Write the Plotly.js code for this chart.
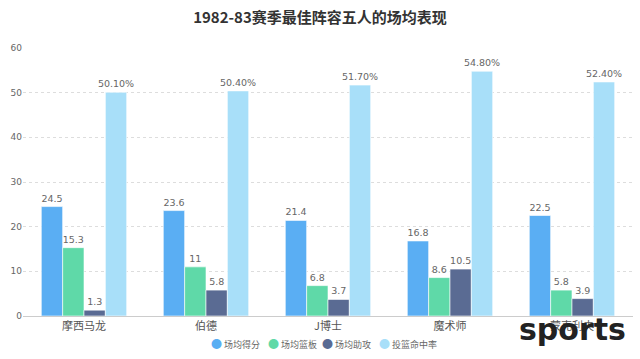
<!DOCTYPE html>
<html><head><meta charset="utf-8">
<script src="https://cdn.plot.ly/plotly-3.0.1.min.js"></script>
<style>html,body{margin:0;padding:0;background:#fff}#c{width:640px;height:359px}</style>
</head><body><div id="c"></div>
<script>
const players = ["摩西马龙", "伯德", "J博士", "魔术师", "蒙克利夫"];
const points = [24.5, 23.6, 21.4, 16.8, 22.5];
const rebounds = [15.3, 11, 6.8, 8.6, 5.8];
const assists = [1.3, 5.8, 3.7, 10.5, 3.9];
const fgPct = [50.1, 50.4, 51.7, 54.8, 52.4];
const seriesNames = ["场均得分", "场均篮板", "场均助攻", "投篮命中率"];
const colors = ["#5aaef3", "#5fd9a8", "#5a6b93", "#a8dff9"];

const W = 640, H = 359, ML = 23, MR = 7, MT = 48, MB = 43;
const plotW = W - ML - MR, plotH = H - MT - MB;

const labelFont = {family: "DejaVu Sans, sans-serif", size: 9.5, color: "#666"};
function mk(vals, i, tmpl) {
  return {
    type: "bar", x: players, y: vals, name: seriesNames[i], showlegend: false,
    marker: {color: colors[i], line: {color: "rgba(255,255,255,0.6)", width: 1}},
    text: vals, texttemplate: tmpl, textposition: "outside", cliponaxis: false, constraintext: "none",
    textfont: labelFont, hoverinfo: "y+name"
  };
}
const data = [
  mk(points, 0, "%{y}"),
  mk(rebounds, 1, "%{y}"),
  mk(assists, 2, "%{y}"),
  mk(fgPct, 3, "%{y:.2f}%")
];

// custom compact legend (circle + label), centred under the plot
const legendStartPx = 209, legendStepPx = [0, 57, 111, 168];
const legendY = -(343 - (MT + plotH)) / plotH;
const annotations = seriesNames.map((n, i) => ({
  text: '<span style="color:' + colors[i] + ';font-size:11px">●</span> ' + n,
  xref: "paper", yref: "paper", x: (legendStartPx + legendStepPx[i] - ML) / plotW, y: legendY,
  xanchor: "left", yanchor: "middle", showarrow: false,
  font: {family: "Noto Sans CJK SC, sans-serif", size: 9, color: "#666"}
}));
annotations.push({text: "<b>sports</b>", xref: "paper", yref: "paper", x: (628 - ML) / plotW, y: -33 / plotH,
  xanchor: "right", yanchor: "bottom", showarrow: false,
  font: {family: "DejaVu Sans, sans-serif", size: 30, color: "#222"}});

const layout = {
  width: W, height: H,
  margin: {l: ML, r: MR, t: MT, b: MB},
  paper_bgcolor: "#fff", plot_bgcolor: "#fff",
  title: {text: "<b>1982-83赛季最佳阵容五人的场均表现</b>", x: 0.5, xanchor: "center", y: 0.95, yanchor: "middle",
          font: {family: "Noto Sans CJK SC, sans-serif", size: 15, color: "#333"}},
  bargap: 0.3, bargroupgap: 0,
  xaxis: {showline: true, linecolor: "#ccc", linewidth: 1, ticks: "", showgrid: false, automargin: false,
          tickfont: {family: "Noto Sans CJK SC, sans-serif", size: 11, color: "#555"}},
  yaxis: {range: [0, 60], dtick: 10, showgrid: true, gridcolor: "#ddd", griddash: "dot", zeroline: false, automargin: false,
          showline: false, ticks: "", tickfont: {family: "DejaVu Sans, sans-serif", size: 9, color: "#666"}},
  showlegend: false,
  annotations: annotations
};
Plotly.newPlot("c", data, layout, {displayModeBar: false, staticPlot: true});
</script></body></html>
